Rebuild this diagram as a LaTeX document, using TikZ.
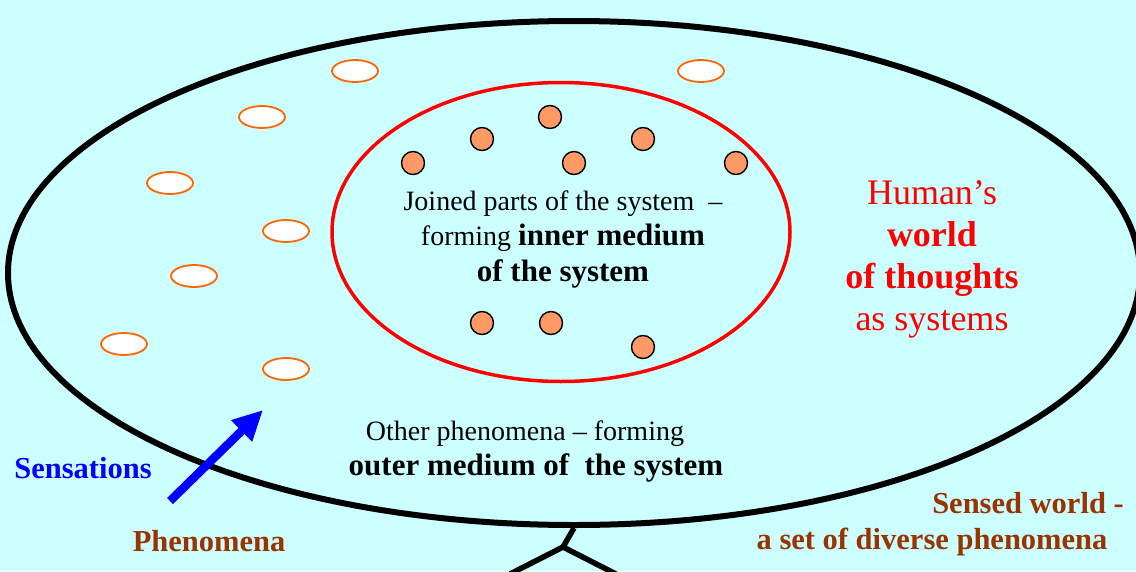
\documentclass[tikz,border=0pt]{standalone}
\usepackage{fontspec}
\setmainfont{Liberation Serif}
\usetikzlibrary{shapes.geometric,arrows.meta}
\definecolor{bgcyan}{HTML}{CCFFFF}
\definecolor{dotorange}{HTML}{FF9966}
\definecolor{rimorange}{HTML}{FF6600}
\definecolor{brownish}{HTML}{993300}
\newcommand{\bigbf}[1]{{\fontsize{31}{35.5}\selectfont\bfseries #1}}
\tikzset{
  phen/.style={ellipse,draw=rimorange,line width=1.8pt,fill=white,minimum width=46pt,minimum height=22pt,inner sep=0pt},
  part/.style={circle,draw=black,line width=1.4pt,fill=dotorange,minimum size=23pt,inner sep=0pt},
  txt/.style={font=\fontsize{28}{35.5}\selectfont,align=center,inner sep=0pt},
  redtxt/.style={font=\fontsize{36}{42}\selectfont,align=center,inner sep=0pt,text=red},
  lbl/.style={font=\fontsize{30.5}{36}\selectfont\bfseries,inner sep=0pt},
}
\begin{document}
\begin{tikzpicture}[x=1pt,y=-1pt]
\fill[bgcyan] (0,0) rectangle (1136,571);
\useasboundingbox (0,0) rectangle (1136,571);
% outer ellipse
\node[ellipse,draw=black,line width=6pt,minimum width=1132pt,minimum height=504pt,inner sep=0pt] (outer) at (574,273) {};
% inner ellipse
\node[ellipse,draw=red,line width=3.5pt,minimum width=458pt,minimum height=299pt,inner sep=0pt] (inner) at (561,232) {};
% phenomena
\node[phen] (p1) at (355,71) {};
\node[phen] (p2) at (701,71) {};
\node[phen] (p3) at (262,117) {};
\node[phen] (p4) at (170,183) {};
\node[phen] (p5) at (286,231) {};
\node[phen] (p6) at (194,276) {};
\node[phen] (p7) at (124,344) {};
\node[phen] (p8) at (286,369) {};
% parts
\node[part] (c1) at (550,117) {};
\node[part] (c2) at (482,139) {};
\node[part] (c3) at (643,139) {};
\node[part] (c4) at (413,163) {};
\node[part] (c5) at (574,163) {};
\node[part] (c6) at (736,163) {};
\node[part] (c7) at (482,323) {};
\node[part] (c8) at (551,323) {};
\node[part] (c9) at (643,347) {};
% texts
\node[txt] (t1) at (563,239) {Joined parts of the system \ –\\forming \bigbf{inner medium}\\\bigbf{of the system}};
\node[redtxt] (t2) at (932,259) {Human’s\\\textbf{world}\\\textbf{of thoughts}\\as systems};
\node[txt] (t3) at (525,434) {Other phenomena – forming};
\node[txt] (t4) at (536,468) {\bigbf{outer medium of \ the system}};
\node[lbl,text=blue] (sens) at (83,468) {Sensations};
\node[lbl,text=brownish] (phn) at (209,541) {Phenomena};
\node[lbl,text=brownish] (sw1) at (1028,503) {Sensed world -};
\node[lbl,text=brownish] (sw2) at (932,542) {a set of diverse phenomena};
% arrow
\coordinate (atail) at (170,501);
\coordinate (ahead) at (263,410);
\draw[blue,line width=8.5pt,-{Triangle[length=30pt,width=28pt]}] (atail) -- (ahead);
% stand
\coordinate (sj) at (563,547);
\coordinate (sl) at (510,574);
\coordinate (sr) at (616,574);
\draw[line width=5.5pt] (outer.south) -- (sj);
\draw[line width=5.5pt] (sl) -- (sj) -- (sr);
\end{tikzpicture}
\end{document}
